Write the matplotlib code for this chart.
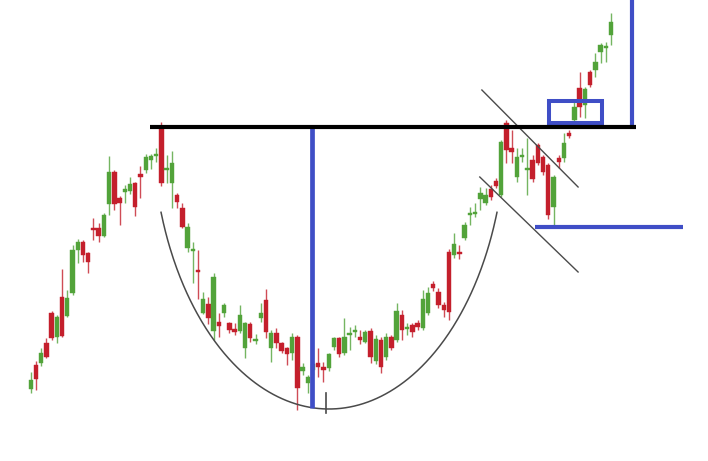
import numpy as np
import matplotlib
matplotlib.use("Agg")
import matplotlib.pyplot as plt

# ---- OHLC data (price units) ----
opens = [72, 96, 98, 118, 148, 124, 164, 145, 168, 211, 219, 208, 233, 233, 225, 257, 289, 263, 269, 270,
         278, 287, 291, 301, 305, 333, 291, 278, 266, 253, 213, 210, 191, 148, 157, 130, 139, 148, 138, 132,
         130, 113, 137, 120, 143, 161, 113, 128, 118, 113, 108, 124, 90, 78, 91, 98, 94, 93, 114, 123,
         108, 126, 129, 124, 119, 130, 100, 121, 104, 124, 121, 146, 132, 136, 138, 133, 148, 177, 169, 156,
         209, 206, 209, 223, 246, 247, 262, 258, 272, 280, 266, 338, 313, 284, 304, 291, 301, 316, 304, 296,
         254, 303, 303, 328, 341, 373, 356, 389, 391, 409, 413, 426]
closes = [81, 82, 108, 104, 123, 144, 125, 163, 211, 219, 206, 199, 231, 225, 246, 289, 257, 258, 272, 277,
          254, 284, 304, 305, 306, 278, 293, 298, 259, 234, 234, 211, 189, 162, 143, 184, 135, 156, 131, 129,
          146, 138, 123, 122, 148, 129, 128, 118, 110, 107, 124, 73, 94, 84, 97, 94, 91, 107, 123, 107,
          124, 128, 131, 121, 129, 104, 122, 94, 124, 113, 150, 131, 134, 129, 134, 162, 168, 173, 156, 151,
          149, 217, 207, 236, 248, 248, 268, 266, 264, 275, 319, 311, 309, 304, 305, 292, 282, 298, 289, 246,
          284, 299, 318, 325, 354, 354, 372, 376, 399, 416, 414, 439]
highs = [89, 100, 113, 123, 150, 146, 192, 171, 216, 222, 221, 209, 243, 238, 248, 305, 291, 265, 276, 284,
         279, 295, 307, 307, 313, 339, 306, 310, 268, 258, 238, 219, 211, 169, 164, 188, 148, 158, 139, 138,
         156, 139, 139, 127, 158, 172, 131, 133, 119, 114, 128, 126, 98, 86, 101, 113, 99, 108, 124, 124,
         143, 134, 136, 131, 131, 133, 126, 124, 128, 126, 158, 151, 138, 138, 141, 171, 174, 180, 173, 159,
         212, 228, 216, 239, 254, 258, 274, 273, 276, 283, 321, 341, 331, 313, 313, 323, 306, 318, 306, 298,
         286, 306, 328, 331, 360, 389, 374, 391, 408, 418, 419, 448]
lows = [68, 71, 95, 103, 121, 118, 124, 144, 166, 198, 199, 188, 221, 219, 224, 246, 251, 236, 258, 267,
        245, 263, 288, 292, 299, 275, 278, 253, 253, 233, 209, 178, 162, 147, 137, 121, 124, 144, 128, 126,
        128, 103, 119, 117, 139, 123, 99, 113, 108, 96, 101, 51, 86, 68, 86, 84, 79, 90, 111, 104,
        106, 111, 124, 117, 118, 98, 97, 88, 101, 111, 119, 121, 126, 124, 131, 131, 146, 170, 153, 144,
        141, 203, 202, 221, 236, 244, 251, 256, 261, 273, 264, 298, 298, 279, 299, 266, 279, 296, 286, 242,
        236, 293, 299, 323, 339, 344, 343, 374, 384, 398, 399, 416]

# ---- pattern levels ----
resistance = 334          # rim of the cup
handle_low = 234          # handle support
cup_bottom = 52
cup_rim = 249
breakout_box = (99.1, 109.3, 338, 360)   # x0, x1, low, high
target_top = 461

GREEN = "#52a33a"
RED = "#c41f2c"
BLUE = "#3f4ec6"
GRAY = "#4a4a4a"

fig = plt.figure(figsize=(7.08, 4.61), dpi=100)
ax = fig.add_axes([0, 0, 1, 1])
ax.set_axis_off()

n = len(opens)
idx = np.arange(n)
o = np.array(opens, float); c = np.array(closes, float)
h = np.array(highs, float); l = np.array(lows, float)
up = c >= o
cols = np.where(up, GREEN, RED)

ax.vlines(idx, l, h, colors=cols, linewidth=1.0, alpha=0.8, zorder=2)
bottom = np.minimum(o, c)
height = np.maximum(np.abs(c - o), 2.0)
ax.bar(idx, height, bottom=bottom, width=0.84, color=cols, edgecolor=cols,
       linewidth=0.3, zorder=3)

# cup arc (portion of an ellipse)
cx, A = 57.06, 33.82
B = 286.0
cy = cup_bottom + B
t = np.linspace(-0.95, 0.95, 300)
ax.plot(cx + A * t, cy - B * np.sqrt(1 - t ** 2), color=GRAY, linewidth=1.1, zorder=4)
ax.plot([56.5, 56.5], [48, 68], color=GRAY, linewidth=1.2, zorder=4)

# handle channel
ax.plot([86.3, 104.7], [371, 274], color=GRAY, linewidth=1.0, zorder=4)
ax.plot([85.9, 104.7], [284, 189], color=GRAY, linewidth=1.0, zorder=4)

# resistance line
ax.plot([22.8, 115.8], [resistance, resistance], color="black", linewidth=3.0,
        solid_capstyle="butt", zorder=6)
# cup depth
ax.plot([53.8, 53.8], [cup_bottom + 1, resistance], color=BLUE, linewidth=3.4,
        solid_capstyle="butt", zorder=5)
# target
ax.plot([115.0, 115.0], [resistance, target_top], color=BLUE, linewidth=3.0,
        solid_capstyle="butt", zorder=5)
# handle support
ax.plot([96.5, 124.8], [handle_low, handle_low], color=BLUE, linewidth=3.0,
        solid_capstyle="butt", zorder=5)
# breakout box
x0, x1, y0, y1 = breakout_box
ax.plot([x0, x1, x1, x0, x0], [y0, y0, y1, y1, y0], color=BLUE, linewidth=2.9,
        solid_joinstyle="miter", zorder=5)

ax.set_xlim(-5.872, 129.55)
ax.set_ylim(0, 461)
fig.savefig("out.png", dpi=100, facecolor="white")
